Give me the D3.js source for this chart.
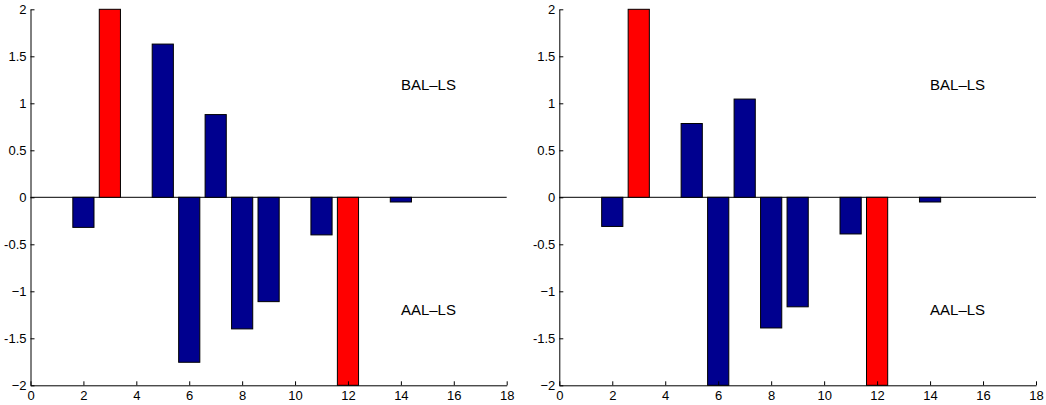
<!DOCTYPE html>
<html>
<head>
<meta charset="utf-8">
<script src="https://cdn.jsdelivr.net/npm/d3@7/dist/d3.min.js"></script>
<style>
  html, body { margin: 0; padding: 0; background: #fff; }
  svg { display: block; }
  text { font-family: "Liberation Sans", Arial, Helvetica, sans-serif; fill: #000; }
</style>
</head>
<body>
<svg id="chart" width="1046" height="405"></svg>
<script>
// ---- data ----
const positions = [1, 2, 3, 4, 5, 6, 7, 8, 9, 10, 11, 12, 13, 14, 15, 16, 17];
const leftValues  = [0, -0.32, 2, 0, 1.63, -1.755, 0.88, -1.40, -1.11, 0, -0.40, -2, 0, -0.05, 0, 0, 0];
const rightValues = [0, -0.31, 2, 0, 0.785, -2, 1.045, -1.39, -1.165, 0, -0.39, -2, 0, -0.05, 0, 0, 0];
const highlighted = [3, 12];
const xTicks = [0, 2, 4, 6, 8, 10, 12, 14, 16, 18];
const yTicks = [-2, -1.5, -1, -0.5, 0, 0.5, 1, 1.5, 2];
const yTickLabels = ["\u22122", "-1.5", "\u22121", "-0.5", "0", "0.5", "1", "1.5", "2"];
const annotations = [
  { text: "BAL\u2013LS", x: 14, y: 1.2 },
  { text: "AAL\u2013LS", x: 14, y: -1.2 }
];

const panels = [
  { values: leftValues,  x0: 30.5,  x1: 506.7 },
  { values: rightValues, x0: 559.3, x1: 1036 }
];

const svg = d3.select("#chart");
const yScale = d3.scaleLinear().domain([-2, 2]).range([385.3, 9.3]);
const barWidth = 0.8;

panels.forEach(p => {
  const xScale = d3.scaleLinear().domain([0, 18]).range([p.x0, p.x1]);
  const g = svg.append("g");

  // zero baseline
  g.append("line")
    .attr("x1", xScale(0)).attr("x2", xScale(18))
    .attr("y1", yScale(0)).attr("y2", yScale(0))
    .attr("stroke", "#000").attr("stroke-width", 1);

  const data = positions.map((pos, i) => ({ pos, v: p.values[i] }));

  g.selectAll("rect.bar").data(data).enter().append("rect")
    .attr("class", "bar")
    .attr("x", d => xScale(d.pos - barWidth / 2))
    .attr("width", d => xScale(d.pos + barWidth / 2) - xScale(d.pos - barWidth / 2))
    .attr("y", d => yScale(Math.max(0, d.v)))
    .attr("height", d => Math.abs(yScale(d.v) - yScale(0)))
    .attr("fill", d => highlighted.includes(d.pos) ? "#ff0000" : "#00008f")
    .attr("stroke", d => d.v === 0 ? "#aaa" : "#000")
    .attr("stroke-width", 1);

  // axes
  const xAxis = d3.axisBottom(xScale).tickValues(xTicks).tickSizeInner(-4).tickSizeOuter(0).tickPadding(5);
  const yAxis = d3.axisLeft(yScale).tickValues(yTicks).tickSizeInner(-4).tickSizeOuter(0).tickPadding(4)
    .tickFormat((d, i) => yTickLabels[i]);

  const gx = g.append("g").attr("transform", `translate(0,${yScale(-2)})`).call(xAxis);
  const gy = g.append("g").attr("transform", `translate(${xScale(0)},0)`).call(yAxis);
  [gx, gy].forEach(a => {
    a.select(".domain").attr("stroke", "#000");
    a.selectAll(".tick line").attr("stroke", "#000");
    a.selectAll(".tick text").attr("font-size", 13)
      .attr("font-family", "'Liberation Sans', Arial, sans-serif").attr("fill", "#000");
  });

  g.selectAll("text.ann").data(annotations).enter().append("text")
    .attr("class", "ann")
    .attr("x", d => xScale(d.x))
    .attr("y", d => yScale(d.y))
    .attr("dy", "0.35em")
    .attr("font-size", 15)
    .text(d => d.text);
});
</script>
</body>
</html>
